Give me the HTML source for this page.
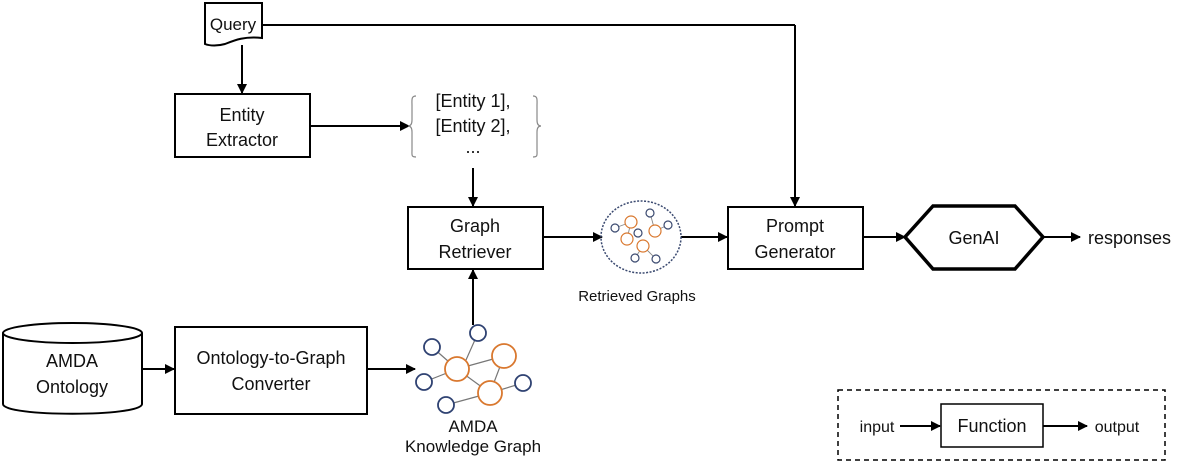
<!DOCTYPE html>
<html><head><meta charset="utf-8"><style>
html,body{margin:0;padding:0;background:#fff;}
svg{display:block;}
text{font-family:"Liberation Sans",Arial,sans-serif;font-size:18px;fill:#111;text-anchor:middle;}
</style></head><body>
<svg width="1193" height="467" viewBox="0 0 1193 467" xmlns="http://www.w3.org/2000/svg">
<defs>
<marker id="a" markerWidth="10" markerHeight="10" refX="9" refY="5" orient="auto" markerUnits="userSpaceOnUse">
<path d="M0,0 L10,5 L0,10 z" fill="#000"/></marker>
</defs>
<g stroke="#000" stroke-width="2" fill="none">
<path d="M205,3 H262 V38 C245,36 235,40 225,44 C218,46 210,46 205,44 Z" fill="#fff"/>
<line x1="262" y1="25" x2="795" y2="25"/>
<line x1="795" y1="25" x2="795" y2="206" marker-end="url(#a)"/>
<line x1="242" y1="45" x2="242" y2="93" marker-end="url(#a)"/>
<rect x="175" y="94" width="135" height="63"/>
<line x1="310" y1="126" x2="409" y2="126" marker-end="url(#a)"/>
<line x1="473" y1="168" x2="473" y2="206" marker-end="url(#a)"/>
<rect x="408" y="207" width="135" height="62"/>
<line x1="543" y1="237" x2="602" y2="237" marker-end="url(#a)"/>
<line x1="681" y1="237" x2="727" y2="237" marker-end="url(#a)"/>
<rect x="728" y="207" width="135" height="62"/>
<line x1="863" y1="237" x2="905" y2="237" marker-end="url(#a)"/>
<polygon points="933,206 1015,206 1043,237 1015,269 933,269 905,237" stroke-width="3.5"/>
<line x1="1043" y1="237" x2="1080" y2="237" marker-end="url(#a)"/>
<path d="M3,333 V404 C3,417 142,417 142,404 V333"/>
<ellipse cx="72.5" cy="333" rx="69.5" ry="10"/>
<line x1="142" y1="369" x2="174" y2="369" marker-end="url(#a)"/>
<rect x="175" y="327" width="192" height="87"/>
<line x1="367" y1="369" x2="415" y2="369" marker-end="url(#a)"/>
<line x1="473" y1="325" x2="473" y2="270" marker-end="url(#a)"/>
<rect x="838" y="390" width="327" height="70" stroke-width="1.5" stroke-dasharray="5,4"/>
<line x1="900" y1="426" x2="940" y2="426" marker-end="url(#a)"/>
<rect x="941" y="404" width="102" height="43" stroke-width="1.5"/>
<line x1="1043" y1="426" x2="1087" y2="426" marker-end="url(#a)"/>
</g>
<g stroke="#888" stroke-width="1.2" fill="none">
<path d="M416,96 C411,96 412,100 412,106 V120 C412,125 410,126 408,126 C410,126 412,127 412,132 V150 C412,155 411,157 416,157"/>
<path d="M533,96 C538,96 537,100 537,106 V120 C537,125 539,126 541,126 C539,126 537,127 537,132 V150 C537,155 538,157 533,157"/>
</g>
<g stroke="#777" stroke-width="1.2">
<line x1="432" y1="347" x2="457" y2="369"/><line x1="424" y1="382" x2="457" y2="369"/>
<line x1="478" y1="333" x2="466" y2="360"/><line x1="457" y1="369" x2="504" y2="356"/>
<line x1="457" y1="369" x2="490" y2="393"/><line x1="504" y1="356" x2="490" y2="393"/>
<line x1="446" y1="405" x2="490" y2="393"/><line x1="490" y1="393" x2="523" y2="383"/>
</g>
<g fill="#fff" stroke-width="1.8">
<circle cx="478" cy="333" r="8" stroke="#2f4272"/><circle cx="432" cy="347" r="8" stroke="#2f4272"/>
<circle cx="424" cy="382" r="8" stroke="#2f4272"/><circle cx="446" cy="405" r="8" stroke="#2f4272"/>
<circle cx="523" cy="383" r="8" stroke="#2f4272"/>
<circle cx="457" cy="369" r="12" stroke="#d9782f"/><circle cx="504" cy="356" r="12" stroke="#d9782f"/>
<circle cx="490" cy="393" r="12" stroke="#d9782f"/>
</g>
<ellipse cx="641" cy="237" rx="40" ry="36" fill="none" stroke="#3b4a70" stroke-width="1.5" stroke-dasharray="2,1.5"/>
<g stroke="#888" stroke-width="0.9">
<line x1="615" y1="228" x2="631" y2="222"/><line x1="631" y1="222" x2="627" y2="239"/>
<line x1="650" y1="213" x2="655" y2="231"/><line x1="655" y1="231" x2="668" y2="225"/>
<line x1="643" y1="246" x2="635" y2="258"/><line x1="643" y1="246" x2="656" y2="259"/>
</g>
<g fill="#fff" stroke-width="1.2">
<circle cx="631" cy="222" r="6" stroke="#d9782f"/><circle cx="627" cy="239" r="6" stroke="#d9782f"/>
<circle cx="655" cy="231" r="6" stroke="#d9782f"/><circle cx="643" cy="246" r="6" stroke="#d9782f"/>
<circle cx="615" cy="228" r="4" stroke="#3b4a70"/><circle cx="650" cy="213" r="4" stroke="#3b4a70"/>
<circle cx="638" cy="233" r="4" stroke="#3b4a70"/><circle cx="668" cy="225" r="4" stroke="#3b4a70"/>
<circle cx="635" cy="258" r="4" stroke="#3b4a70"/><circle cx="656" cy="259" r="4" stroke="#3b4a70"/>
</g>
<text x="233" y="30" style="font-size:17px">Query</text>
<text x="242" y="121">Entity</text><text x="242" y="146">Extractor</text>
<text x="473" y="107">[Entity 1],</text><text x="473" y="132">[Entity 2],</text><text x="473" y="153">...</text>
<text x="475" y="232">Graph</text><text x="475" y="258">Retriever</text>
<text x="637" y="301" style="font-size:15px">Retrieved Graphs</text>
<text x="795" y="232">Prompt</text><text x="795" y="258">Generator</text>
<text x="974" y="244">GenAI</text>
<text x="1088" y="244" style="text-anchor:start">responses</text>
<text x="72" y="367">AMDA</text><text x="72" y="393">Ontology</text>
<text x="271" y="364">Ontology-to-Graph</text><text x="271" y="390">Converter</text>
<text x="473" y="432" style="font-size:17px">AMDA</text><text x="473" y="452" style="font-size:17px">Knowledge Graph</text>
<text x="877" y="432" style="font-size:16px">input</text>
<text x="992" y="432">Function</text>
<text x="1117" y="432" style="font-size:16px">output</text>
</svg>
</body></html>
